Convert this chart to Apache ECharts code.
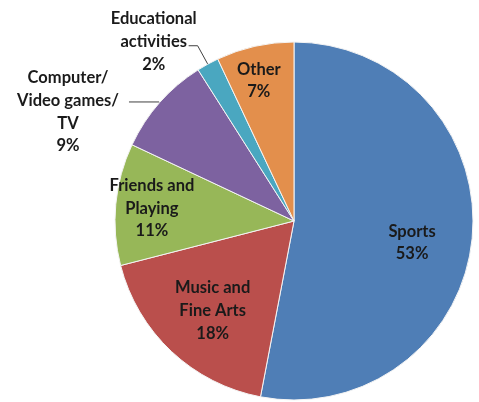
<!DOCTYPE html>
<html>
<head>
<meta charset="utf-8">
<script src="https://cdn.jsdelivr.net/npm/echarts@6/dist/echarts.min.js"></script>
<style>
html,body{margin:0;padding:0;background:#fff;}
#chart{width:479px;height:402px;}
</style>
</head>
<body>
<div id="chart"></div>
<script>
// Data
const categories = ['Sports', 'Music and Fine Arts', 'Friends and Playing', 'Computer/ Video games/ TV', 'Educational activities', 'Other'];
const labelTexts = [['Sports'], ['Music and', 'Fine Arts'], ['Friends and', 'Playing'], ['Computer/', 'Video games/', 'TV'], ['Educational', 'activities'], ['Other']];
const values = [53, 18, 11, 9, 2, 7];

// Styles
const colors = ['#4F7EB6', '#BA4F4C', '#97B758', '#7D62A0', '#4AA7C0', '#E38F4C'];
const isInside = [true, true, true, false, false, true];
const labelOffset = [[26, 13], [-18, 22], [-50, -4], [-7, 10], [11, -4], [-15, -50]];
const outsideLine = [null, null, null, [1, 30], [21, 9], null];
const R = 179;
const FONT = 'Lato';
const FS = 16.5;
const LH = 22.8;

const total = values.reduce((a, b) => a + b, 0);

const data = categories.map((name, i) => {
  const lines = labelTexts[i].concat([Math.round(values[i] / total * 100) + '%']);
  const item = {
    name: name,
    value: values[i],
    itemStyle: { color: colors[i] },
    label: {
      position: isInside[i] ? 'inside' : 'outside',
      formatter: lines.map(l => '{c|' + l + '}').join('\n')
    }
  };
  item.labelLine = isInside[i]
    ? { show: false }
    : { show: true, length: outsideLine[i][0], length2: outsideLine[i][1] };
  return item;
});

const chart = echarts.init(document.getElementById('chart'), null, { renderer: 'canvas' });
chart.setOption({
  animation: false,
  backgroundColor: '#fff',
  series: [{
    type: 'pie',
    center: [294, 221],
    radius: [0, R],
    startAngle: 90,
    clockwise: true,
    avoidLabelOverlap: false,
    data: data,
    itemStyle: { borderColor: '#f4f4f4', borderWidth: 1 },
    label: {
      color: '#1a1a1a',
      fontFamily: FONT,
      fontWeight: 'bold',
      fontSize: FS,
      lineHeight: LH,
      distanceToLabelLine: 3,
      rich: {
        c: { align: 'center', color: '#1a1a1a', fontFamily: FONT, fontWeight: 'bold', fontSize: FS, lineHeight: LH }
      }
    },
    labelLine: {
      lineStyle: { color: '#404040', width: 1 },
      smooth: false
    },
    labelLayout: function (params) {
      const i = params.dataIndex;
      const o = labelOffset[i];
      const res = { dx: o[0], dy: o[1] };
      if (!isInside[i] && params.labelLinePoints) {
        res.labelLinePoints = params.labelLinePoints.map(p => [p[0], p[1]]);
      }
      return res;
    }
  }]
});
</script>
</body>
</html>
